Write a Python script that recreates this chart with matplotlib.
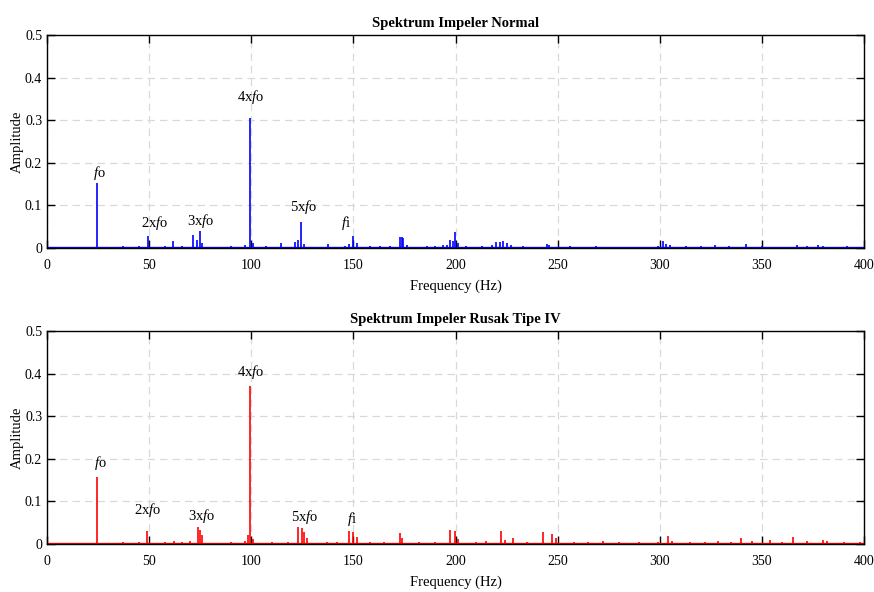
import numpy as np
import matplotlib.pyplot as plt
import matplotlib

matplotlib.rc("font", family="Liberation Serif", size=10)
matplotlib.rcParams["mathtext.fontset"] = "custom"
matplotlib.rcParams["mathtext.it"] = "Liberation Serif:italic"
matplotlib.rcParams["mathtext.rm"] = "Liberation Serif"

# spektrum impeler normal (Hz, amplitudo)
freq_normal = [24.4, 37, 45, 49.6, 58, 61.9, 66, 71.6, 73.6, 74.9, 76, 90, 97, 99.4, 101,
               107, 114.7, 121.4, 123, 124.4, 126, 137.4, 146, 148, 150, 152, 158, 163, 168,
               172.8, 173.6, 174.3, 176, 186, 190, 194, 196, 197.5, 198.8, 199.8, 201, 205,
               213, 218, 220, 222, 223, 225, 227, 233, 244.6, 246, 256, 269, 281, 290, 299,
               301.6, 303, 305, 313, 320, 327, 334, 342, 350, 359, 367, 372, 377.5, 380, 391.5]
amp_normal = [0.152, 0.005, 0.004, 0.028, 0.004, 0.016, 0.004, 0.030, 0.020, 0.040, 0.012,
              0.004, 0.008, 0.305, 0.012, 0.005, 0.012, 0.014, 0.018, 0.060, 0.010, 0.010,
              0.005, 0.010, 0.028, 0.012, 0.004, 0.004, 0.005, 0.025, 0.025, 0.024, 0.008,
              0.004, 0.005, 0.006, 0.008, 0.019, 0.016, 0.037, 0.012, 0.004, 0.005, 0.006,
              0.015, 0.014, 0.016, 0.012, 0.006, 0.004, 0.010, 0.006, 0.004, 0.005, 0.003,
              0.003, 0.005, 0.016, 0.010, 0.008, 0.004, 0.004, 0.006, 0.004, 0.009, 0.004,
              0.003, 0.008, 0.004, 0.007, 0.005, 0.004]

# spektrum impeler rusak tipe IV
freq_rusak = [24.4, 37, 45, 49.1, 58, 62, 66, 70, 73.8, 74.9, 76, 90, 97, 98.5, 99.4, 101,
              110, 118, 123, 124.7, 126, 127.5, 137, 142, 148, 150, 152, 158, 165, 172.8,
              174, 182, 190, 197.3, 199.7, 201, 210, 215, 222.3, 224, 228, 235, 243, 247,
              249, 258, 265, 272, 280, 290, 299, 304.2, 306, 315, 322, 328.5, 335, 340,
              345, 354, 360, 365, 372, 380, 382, 390, 398]
amp_rusak = [0.157, 0.004, 0.004, 0.030, 0.005, 0.006, 0.005, 0.008, 0.039, 0.032, 0.020,
             0.004, 0.008, 0.020, 0.371, 0.012, 0.004, 0.005, 0.039, 0.037, 0.028, 0.015,
             0.005, 0.004, 0.030, 0.028, 0.016, 0.005, 0.004, 0.025, 0.015, 0.004, 0.005,
             0.033, 0.030, 0.012, 0.004, 0.006, 0.030, 0.010, 0.015, 0.004, 0.027, 0.023,
             0.015, 0.004, 0.005, 0.007, 0.004, 0.004, 0.005, 0.018, 0.008, 0.004, 0.005,
             0.008, 0.005, 0.015, 0.006, 0.010, 0.005, 0.017, 0.006, 0.010, 0.008, 0.005, 0.004]

# label harmonik: (teks, frekuensi, amplitudo)
labels_normal = [("$f$o", 25.6, 0.175), ("2x$f$o", 52.5, 0.058), ("3x$f$o", 75.2, 0.064),
                 ("4x$f$o", 99.9, 0.354), ("5x$f$o", 125.8, 0.096), ("$f$i", 146.4, 0.059)]
labels_rusak = [("$f$o", 26.0, 0.189), ("2x$f$o", 49.1, 0.080), ("3x$f$o", 75.7, 0.066),
                ("4x$f$o", 99.9, 0.404), ("5x$f$o", 126.3, 0.063), ("$f$i", 149.5, 0.059)]

xticks = [0, 50, 100, 150, 200, 250, 300, 350, 400]
yticks = [0, 0.1, 0.2, 0.3, 0.4, 0.5]


def gambar_spektrum(ax, freq, amp, warna, judul, labels):
    ax.vlines(freq, 0, amp, color=warna, linewidth=1.2)
    ax.axhline(0, color=warna, linewidth=2.4)
    for teks, fx, fy in labels:
        ax.text(fx, fy, teks, ha="center", va="center", fontsize=10.5)
    ax.set_xlim(0, 400)
    ax.set_ylim(0, 0.5)
    ax.set_xticks(xticks)
    ax.set_yticks(yticks)
    ax.set_yticklabels(["0", "0.1", "0.2", "0.3", "0.4", "0.5"])
    ax.grid(True, linestyle=(0, (6, 4)), color="#d9d9d9", linewidth=0.9)
    ax.set_axisbelow(True)
    ax.tick_params(direction="in", length=6, width=1, top=True, right=True, labelsize=10)
    ax.tick_params(axis="x", pad=8)
    for s in ax.spines.values():
        s.set_linewidth(1.0)
    ax.set_title(judul, fontweight="bold", fontsize=10.5, pad=6)
    ax.set_xlabel("Frequency (Hz)", fontsize=10.5, labelpad=5)
    ax.set_ylabel("Amplitude", fontsize=10.5, labelpad=1)


fig = plt.figure(figsize=(8.74, 5.92), dpi=100)
ax1 = fig.add_axes([0.0538, 0.581, 0.9348, 0.3598])
ax2 = fig.add_axes([0.0538, 0.0811, 0.9348, 0.3598])

gambar_spektrum(ax1, freq_normal, amp_normal, "blue", "Spektrum Impeler Normal", labels_normal)
gambar_spektrum(ax2, freq_rusak, amp_rusak, "red", "Spektrum Impeler Rusak Tipe IV", labels_rusak)

fig.savefig("out.png", dpi=100)
